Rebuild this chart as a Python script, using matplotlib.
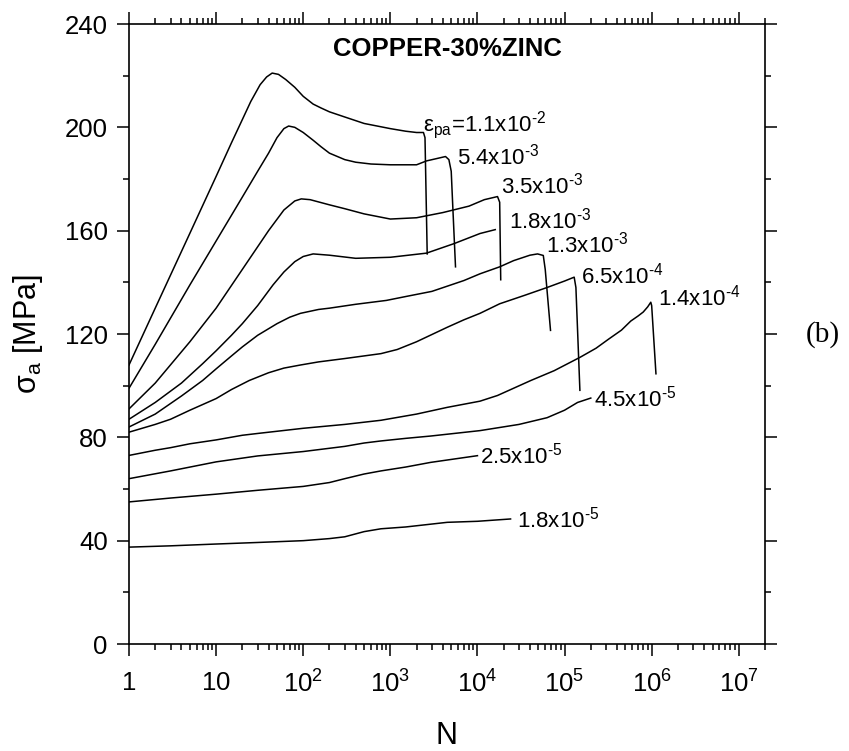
import matplotlib
matplotlib.use("Agg")
import matplotlib.pyplot as plt
from matplotlib.ticker import LogLocator, MultipleLocator, NullFormatter
from matplotlib.transforms import ScaledTranslation

plt.rcParams['font.family'] = ['Liberation Sans', 'DejaVu Sans']
plt.rcParams['mathtext.fontset'] = 'custom'
plt.rcParams['mathtext.rm'] = 'Liberation Sans'
plt.rcParams['mathtext.it'] = 'Liberation Sans'
plt.rcParams['mathtext.bf'] = 'Liberation Sans:bold'
plt.rcParams['mathtext.sf'] = 'Liberation Sans'

# cycles N and stress amplitude [MPa], one pair per plastic strain amplitude
N_11e2 = [1, 2, 5, 10, 15, 20, 25, 32, 38, 44, 52, 63, 80, 100, 130, 160, 200, 300, 500,
          1000, 1500, 2000, 2400, 2500, 2650]
S_11e2 = [108, 130, 159, 181, 194, 203, 210, 216.5, 219.5, 221, 220.5, 218.5, 215.5, 212,
          209, 207.5, 206, 204, 201.5, 199.5, 198.5, 198, 198, 196, 151]

N_54e3 = [1, 2, 5, 10, 20, 30, 40, 50, 60, 68, 80, 100, 130, 160, 200, 300, 400, 600, 1000,
          2000, 2600, 3500, 4300, 4700, 5000, 5200, 5600]
S_54e3 = [99, 116, 139, 156, 173, 183, 190, 196, 199.5, 200.5, 200, 198, 195, 192.5, 190,
          187.5, 186.5, 185.8, 185.5, 185.5, 187, 188, 188.7, 187.5, 183, 170, 146]

N_35e3 = [1, 2, 5, 10, 20, 40, 60, 80, 95, 120, 200, 300, 500, 1000, 2000, 4000, 8000,
          12000, 17000, 18000, 18500]
S_35e3 = [91, 101, 117, 130, 145, 160, 168, 171.5, 172.3, 172, 170, 168.5, 166.5, 164.5,
          165, 167, 169.5, 172, 173.2, 171, 141]

N_18e3 = [1, 2, 4, 7, 10, 15, 20, 30, 45, 60, 80, 100, 130, 200, 400, 1000, 2600, 5400,
          10700, 16000]
S_18e3 = [87, 93.5, 101, 108.5, 113.5, 119.5, 124, 131, 139, 144, 148, 150, 151, 150.5,
          149.3, 149.7, 151.3, 155, 158.9, 160.4]

N_13e3 = [1, 2, 4, 7, 10, 15, 20, 30, 50, 70, 93, 150, 200, 400, 900, 1500, 3000, 7000,
          10700, 18000, 26000, 40000, 49000, 57000, 60000, 69000]
S_13e3 = [84, 89, 96, 102, 106.5, 111.5, 115, 119.5, 124, 126.5, 128, 129.5, 130, 131.5,
          133, 134.5, 136.5, 140.7, 143.3, 146, 148.4, 150.5, 151, 150.4, 145, 121.4]

N_65e4 = [1, 2, 3, 5, 10, 15, 24, 40, 60, 93, 150, 300, 780, 1200, 2000, 3000, 4500, 7000,
          10700, 18000, 35000, 63000, 100000, 129000, 135000, 150000]
S_65e4 = [82, 85, 87, 90.5, 95, 98.5, 102, 105, 106.8, 108, 109.2, 110.5, 112.4, 114, 117,
          119.8, 122.6, 125.5, 128, 131.7, 135, 138, 140.5, 142, 138, 98.2]

N_14e4 = [1, 2, 3, 5, 10, 20, 30, 100, 300, 780, 2000, 4500, 10700, 17000, 41000, 76000,
          151000, 230000, 320000, 450000, 575000, 700000, 800000, 900000, 977000, 1000000,
          1120000]
S_14e4 = [73, 75, 76, 77.5, 79, 80.8, 81.5, 83.5, 85, 86.6, 89, 91.6, 94, 96.2, 102, 105.8,
          111, 114.5, 118, 121.5, 125, 127, 128.5, 130.5, 132.3, 131, 104.6]

N_45e5 = [1, 3, 10, 30, 100, 300, 500, 780, 1500, 2900, 10700, 30000, 63000, 100000,
          141000, 200000]
S_45e5 = [64, 67, 70.5, 72.8, 74.5, 76.5, 77.8, 78.6, 79.6, 80.5, 82.6, 85, 87.6, 90.5,
          93.5, 95.2]

N_25e5 = [1, 3, 10, 30, 100, 200, 300, 500, 780, 1500, 2900, 10000]
S_25e5 = [55, 56.5, 58, 59.5, 61, 62.5, 64, 65.8, 67, 68.5, 70.3, 72.9]

N_18e5 = [1, 3, 10, 30, 100, 200, 300, 500, 780, 1500, 4500, 10000, 24000]
S_18e5 = [37.5, 38, 38.7, 39.3, 40, 40.8, 41.5, 43.5, 44.6, 45.3, 47.1, 47.5, 48.4]

curves = [(N_11e2, S_11e2), (N_54e3, S_54e3), (N_35e3, S_35e3), (N_18e3, S_18e3),
          (N_13e3, S_13e3), (N_65e4, S_65e4), (N_14e4, S_14e4), (N_45e5, S_45e5),
          (N_25e5, S_25e5), (N_18e5, S_18e5)]

curve_labels = [r'ε$_{pa}$=1.1x10$^{\text{-}2}$', r'5.4x10$^{\text{-}3}$',
                r'3.5x10$^{\text{-}3}$', r'1.8x10$^{\text{-}3}$', r'1.3x10$^{\text{-}3}$',
                r'6.5x10$^{\text{-}4}$', r'1.4x10$^{\text{-}4}$', r'4.5x10$^{\text{-}5}$',
                r'2.5x10$^{\text{-}5}$', r'1.8x10$^{\text{-}5}$']
# label anchor (left, baseline) in data units
label_pos = [(2400, 198.6), (5900, 185.8), (18700, 174.3), (22900, 160.7), (60700, 151.7),
             (152800, 139.5), (1.18e6, 131.1), (2.17e5, 91.9), (10800, 70.0), (28600, 45.0)]

x_major = [1, 10, 1e2, 1e3, 1e4, 1e5, 1e6, 1e7]
x_ticklabels = [r'$\mathregular{1}$', r'$\mathregular{10}$'] + \
               [r'$\mathregular{10^{%d}}$' % k for k in range(2, 8)]

fig = plt.figure(figsize=(8.49, 7.51), dpi=100)
ax = fig.add_axes([129 / 849, 107 / 751, 636 / 849, 620 / 751])

for n, s in curves:
    ax.plot(n, s, color='black', lw=1.1)

for txt, (xn, ys) in zip(curve_labels, label_pos):
    ax.text(xn, ys, txt, fontsize=16, ha='left', va='baseline')

ax.set_xscale('log')
ax.set_xlim(1, 2e7)
ax.set_ylim(0, 240)
ax.set_xticks(x_major)
ax.set_xticklabels(x_ticklabels)
ax.xaxis.set_minor_locator(LogLocator(base=10, subs=range(2, 10), numticks=30))
ax.xaxis.set_minor_formatter(NullFormatter())
ax.yaxis.set_major_locator(MultipleLocator(40))
ax.yaxis.set_minor_locator(MultipleLocator(20))

ax.tick_params(which='both', direction='out', top=True, right=True, width=1.1,
               labelsize=18.5)
ax.tick_params(which='major', length=8.6)
ax.tick_params(which='minor', length=4.6)
ax.tick_params(axis='x', which='major', pad=26.6)
ax.tick_params(axis='y', which='major', pad=6.7)
for i, lbl in enumerate(ax.get_xticklabels()):
    lbl.set_va('baseline')
    if i < 2:
        # labels without exponent sit a little low with baseline alignment
        lbl.set_transform(lbl.get_transform() +
                          ScaledTranslation(0, 0.03, fig.dpi_scale_trans))

for sp in ax.spines.values():
    sp.set_linewidth(1.2)

ax.set_xlabel('N', fontsize=22, va='baseline')
ax.xaxis.set_label_coords(0.5, -0.161)
ax.set_ylabel(r'$\mathregular{σ_a}$ [MPa]', fontsize=22)
ax.yaxis.set_label_coords(-0.132, 0.5)

ax.text(0.5, 0.948, 'COPPER-30%ZINC', transform=ax.transAxes, fontsize=18.5,
        fontweight='bold', ha='center', va='baseline')

fig.text(823 / 849, 1 - 335 / 751, '(b)', fontsize=21, family='Liberation Serif',
         ha='center', va='center')

fig.savefig('out.png', dpi=100)
